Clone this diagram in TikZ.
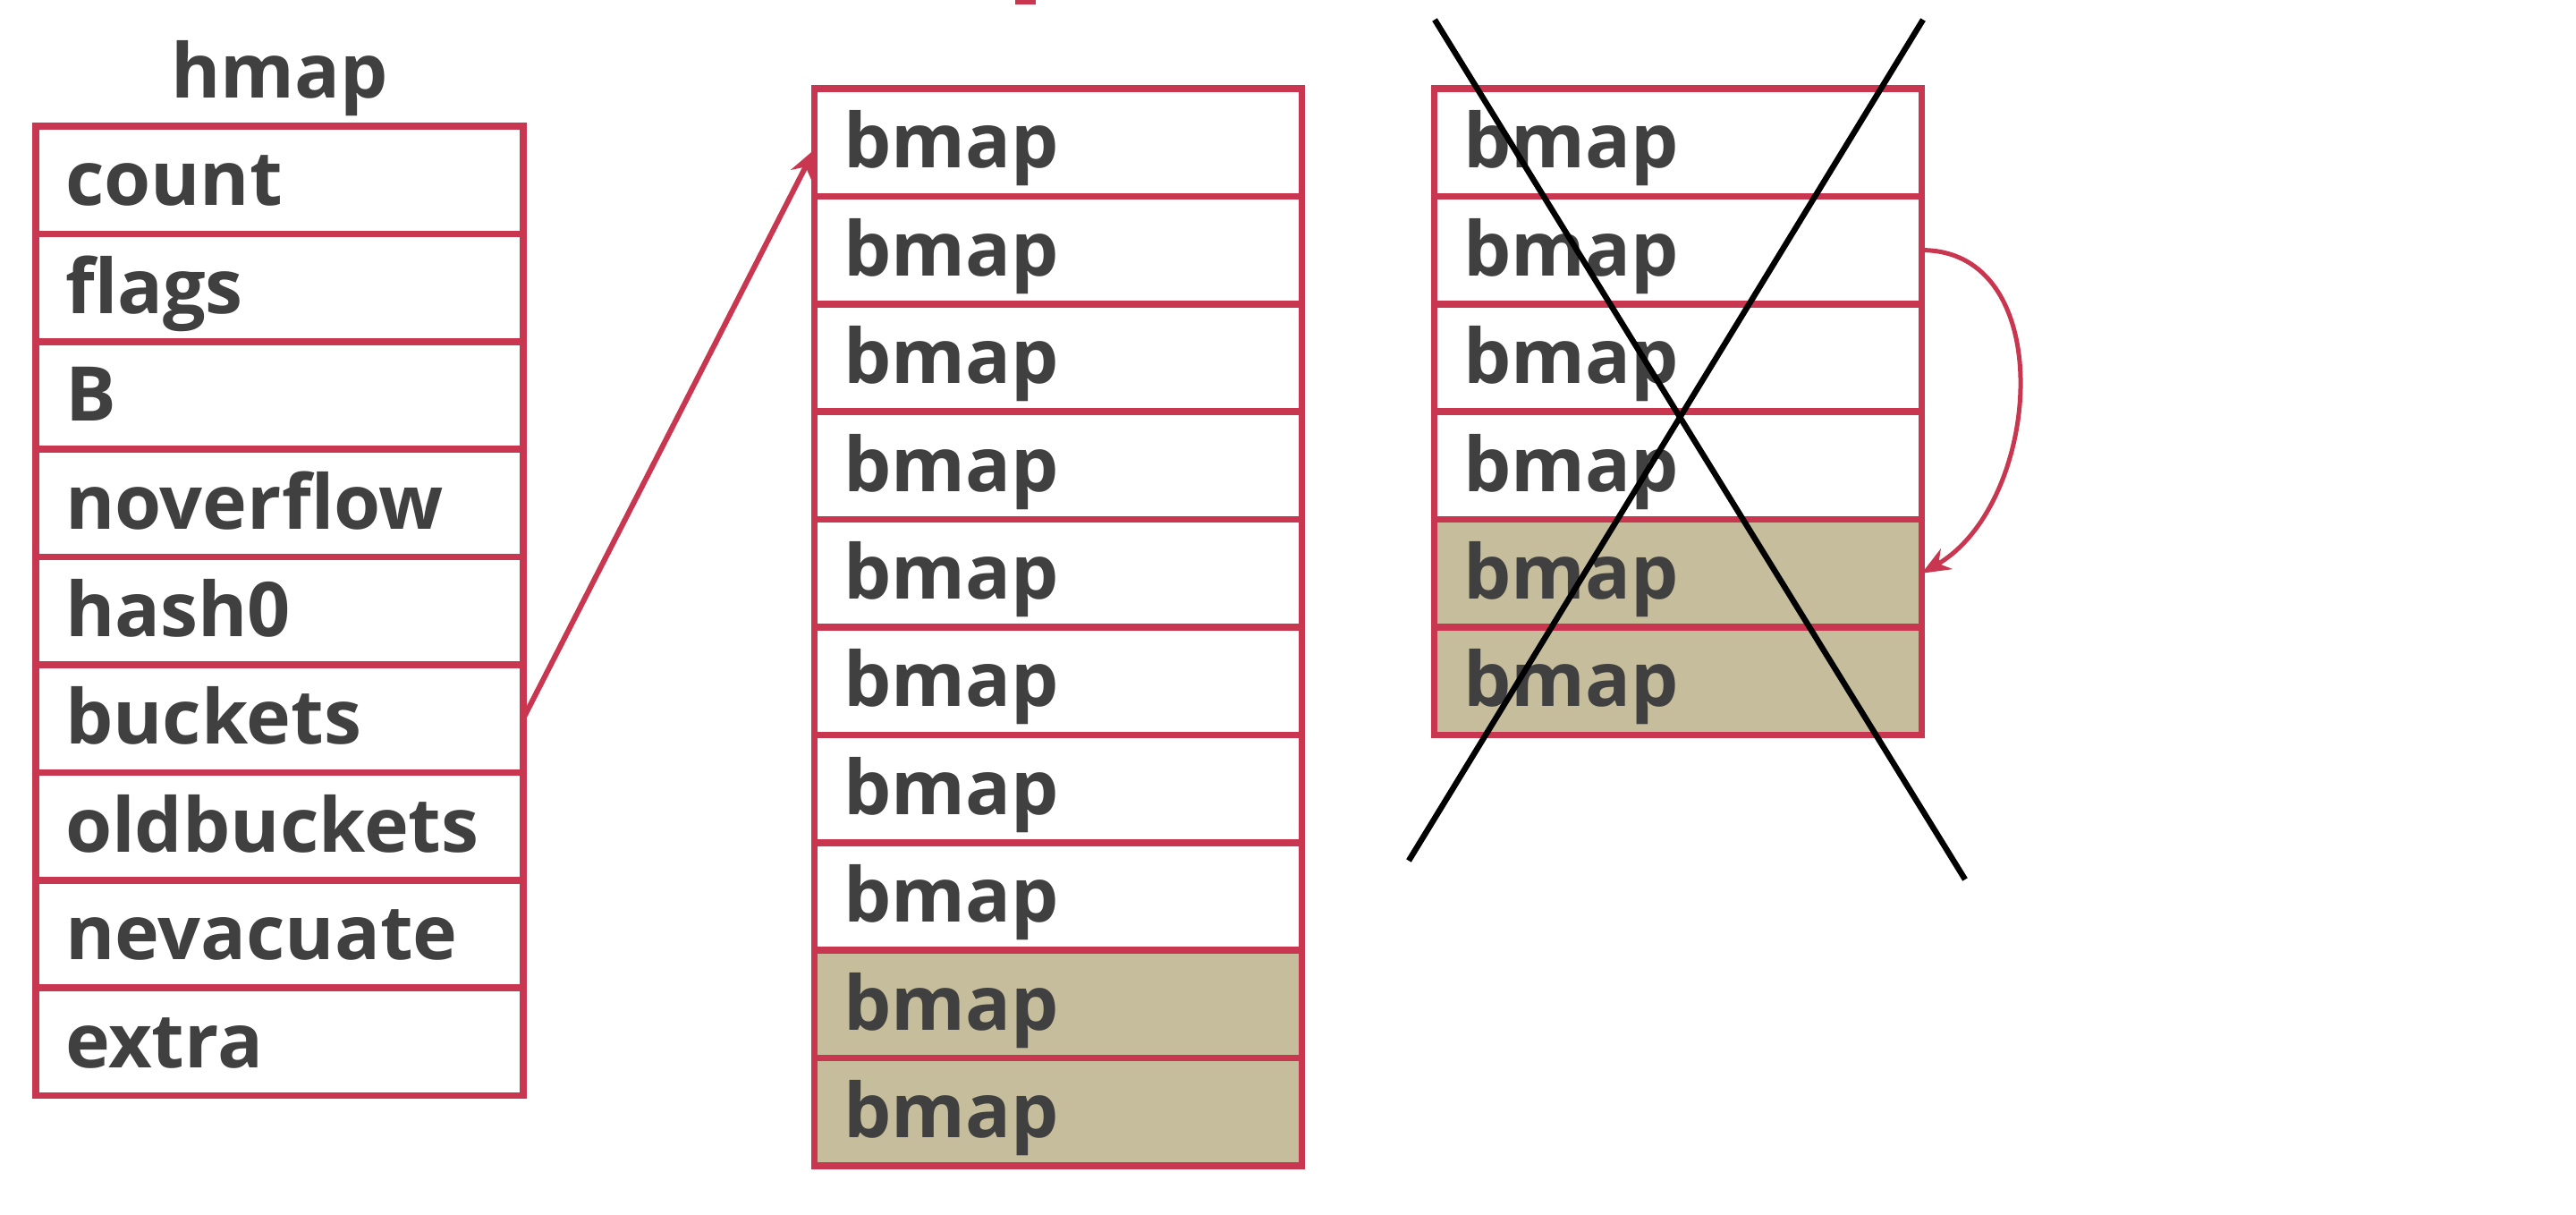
\documentclass[tikz,border=0pt]{standalone}
\usepackage{fontspec}
\setmainfont{Open Sans}
\usetikzlibrary{arrows.meta}
\definecolor{boxred}{RGB}{200,54,80}
\definecolor{oldfill}{RGB}{197,189,155}
\definecolor{labelgray}{RGB}{64,64,64}

\begin{document}
\begin{tikzpicture}
    [
      field/.style={rectangle,draw=boxred,line width=0.075cm,fill=white,outer sep=0pt,
        minimum width=5.45cm,minimum height=1.204cm,text width=4.79cm,inner xsep=0.33cm,
        text height=0.70cm,text depth=0.125cm,align=left,text=labelgray,
        font=\fontsize{24}{28}\selectfont\bfseries},
      moved/.style={field,fill=oldfill},
      post/.style={-{Stealth[length=0.32cm,width=0.26cm]},draw=boxred,line width=0.06cm},
      cross/.style={line width=0.065cm,black},
    ]
    \useasboundingbox (0,0) rectangle (28.8,-13.58);

    \fill [boxred] (11.35,0) rectangle (11.58,-0.05);

    \node (hmap-title) [anchor=base,text=labelgray,font=\fontsize{24}{28}\selectfont\bfseries] at (3.125,-1.10) {hmap};

    \node (h-count) [field] at (3.125,-2.012) {count};
    \node (h-flags) [field] at (3.125,-3.216) {flags};
    \node (h-b) [field] at (3.125,-4.420) {B};
    \node (h-noverflow) [field] at (3.125,-5.624) {noverflow};
    \node (h-hash0) [field] at (3.125,-6.828) {hash0};
    \node (h-buckets) [field] at (3.125,-8.032) {buckets};
    \node (h-oldbuckets) [field] at (3.125,-9.236) {oldbuckets};
    \node (h-nevacuate) [field] at (3.125,-10.440) {nevacuate};
    \node (h-extra) [field] at (3.125,-11.644) {extra};

    \node (new-1) [field] at (11.83,-1.592) {bmap};
    \node (new-2) [field] at (11.83,-2.796) {bmap};
    \node (new-3) [field] at (11.83,-4.000) {bmap};
    \node (new-4) [field] at (11.83,-5.204) {bmap};
    \node (new-5) [field] at (11.83,-6.408) {bmap};
    \node (new-6) [field] at (11.83,-7.612) {bmap};
    \node (new-7) [field] at (11.83,-8.816) {bmap};
    \node (new-8) [field] at (11.83,-10.020) {bmap};
    \node (new-9) [moved] at (11.83,-11.224) {bmap};
    \node (new-10) [moved] at (11.83,-12.428) {bmap};

    \node (old-1) [field] at (18.76,-1.592) {bmap};
    \node (old-2) [field] at (18.76,-2.796) {bmap};
    \node (old-3) [field] at (18.76,-4.000) {bmap};
    \node (old-4) [field] at (18.76,-5.204) {bmap};
    \node (old-5) [moved] at (18.76,-6.408) {bmap};
    \node (old-6) [moved] at (18.76,-7.612) {bmap};

    \path
    (h-buckets.east) edge [post] ([yshift=-0.08cm]new-1.west)
    (old-2.east) edge [post,line width=0.05cm,out=0,in=30,looseness=1.1] (old-5.east)
    ;

    % crossed out
    \draw [cross] (16.04,-0.22) -- (21.97,-9.83);
    \draw [cross] (21.50,-0.22) -- (15.75,-9.62);

  \end{tikzpicture}
\end{document}
